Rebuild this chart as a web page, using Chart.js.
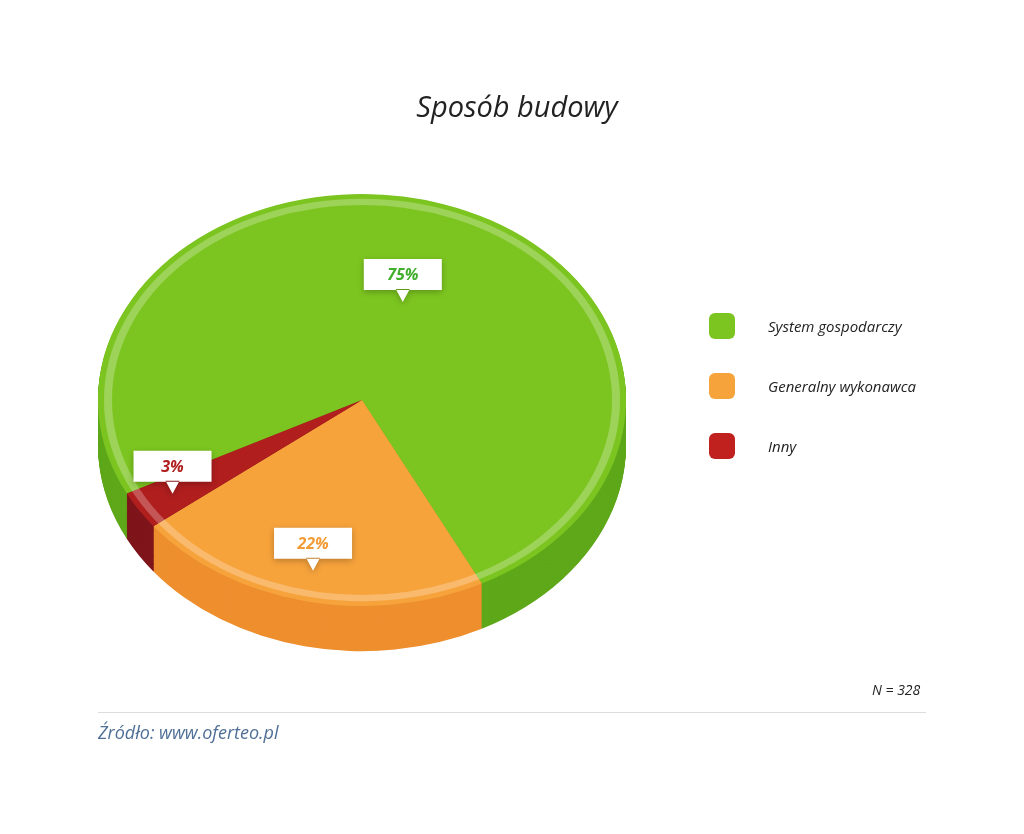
<!DOCTYPE html>
<html>
<head>
<meta charset="utf-8">
<script src="https://cdn.jsdelivr.net/npm/chart.js@4"></script>
<style>
  body { margin:0; background:#fff; font-family:"Open Sans", sans-serif; }
  #wrap { position:relative; width:1024px; height:834px; }
  canvas { position:absolute; left:0; top:0; }
  .t { position:absolute; font-style:italic; color:#222; }
  .sw { position:absolute; width:26px; height:26px; border-radius:6px; }
</style>
</head>
<body>
<div id="wrap">
  <canvas id="pie" width="1024" height="834"></canvas>
  <div class="t" style="left:0;width:1034px;top:86px;text-align:center;font-size:29px;">Sposób budowy</div>
  <div class="sw" style="left:709px;top:313px;background:#7cc520"></div>
  <div class="t" style="left:768px;top:316px;font-size:15px;">System gospodarczy</div>
  <div class="sw" style="left:709px;top:373px;background:#f7a33c"></div>
  <div class="t" style="left:768px;top:376px;font-size:15px;">Generalny wykonawca</div>
  <div class="sw" style="left:709px;top:433px;background:#c0211f"></div>
  <div class="t" style="left:768px;top:436px;font-size:15px;">Inny</div>
  <div class="t" style="left:872px;top:680px;font-size:14px;">N = 328</div>
  <div style="position:absolute;left:98px;top:712px;width:828px;border-top:1px solid #ddd;"></div>
  <div class="t" style="left:98px;top:720px;font-size:18px;color:#4f6f96;">Źródło: www.oferteo.pl</div>
</div>
<script>
// Data
var labels = ['System gospodarczy', 'Generalny wykonawca', 'Inny'];
var values = [75, 22, 3];
var topColors = ['#7cc520', '#f7a33c', '#b01e1e'];
var sideColors = ['#5ea81a', '#ee8f2e', '#7e151a'];
var textColors = ['#3fae2a', '#f29a33', '#b01e1e'];
var labelRadius = [0.5, 0.85, 0.85];

var squash = 0.78;
var depth = 58;

var pie3d = {
    id: 'pie3d',
    beforeDatasetsDraw: function(chart) {
        var ctx = chart.ctx;
        var meta = chart.getDatasetMeta(0);
        var cx = meta.data[0].x, cy = meta.data[0].y;
        ctx.save();
        ctx.translate(cx, cy);
        ctx.scale(1, squash);
        ctx.translate(-cx, -cy);
        // Draw the sides as stacked copies.
        for (var d = depth; d > 0; d -= 1) {
            meta.data.forEach(function(el, i) {
                ctx.beginPath();
                ctx.moveTo(cx, cy + d);
                ctx.arc(cx, cy + d, el.outerRadius, el.startAngle, el.endAngle);
                ctx.closePath();
                ctx.fillStyle = sideColors[i];
                ctx.fill();
            });
        }
    },
    afterDatasetsDraw: function(chart) {
        var ctx = chart.ctx;
        var meta = chart.getDatasetMeta(0);
        var el0 = meta.data[0];
        // Light rim on the top face.
        ctx.beginPath();
        ctx.arc(el0.x, el0.y, el0.outerRadius - 10, 0, Math.PI * 2);
        ctx.strokeStyle = 'rgba(255,255,255,0.25)';
        ctx.lineWidth = 8;
        ctx.stroke();
        ctx.restore();

        // Callouts.
        meta.data.forEach(function(el, i) {
            var mid = (el.startAngle + el.endAngle) / 2;
            var r = el.outerRadius * labelRadius[i];
            var tx = el.x + Math.cos(mid) * r;
            var ty = el.y + Math.sin(mid) * r * squash;
            var w = 78, h = 31;
            var bx = tx - w / 2, by = ty - h - 12;
            ctx.save();
            ctx.shadowColor = 'rgba(0,0,0,0.25)';
            ctx.shadowBlur = 6;
            ctx.shadowOffsetY = 2;
            ctx.fillStyle = '#fff';
            ctx.beginPath();
            ctx.rect(bx, by, w, h);
            ctx.moveTo(tx - 7, by + h - 1);
            ctx.lineTo(tx, ty);
            ctx.lineTo(tx + 7, by + h - 1);
            ctx.fill();
            ctx.restore();
            ctx.fillStyle = textColors[i];
            ctx.font = 'italic bold 16px "Open Sans"';
            ctx.textAlign = 'center';
            ctx.textBaseline = 'middle';
            ctx.fillText(values[i] + '%', tx, by + h / 2 + 1);
        });
    }
};

new Chart(document.getElementById('pie'), {
    type: 'pie',
    data: {
        labels: labels,
        datasets: [{
            data: values,
            backgroundColor: topColors,
            borderWidth: 0
        }]
    },
    options: {
        responsive: false,
        animation: false,
        rotation: 243,
        layout: { padding: { left: 98, right: 398, top: 136, bottom: 170 } },
        plugins: { legend: { display: false }, tooltip: { enabled: false } }
    },
    plugins: [pie3d]
});
</script>
</body>
</html>
